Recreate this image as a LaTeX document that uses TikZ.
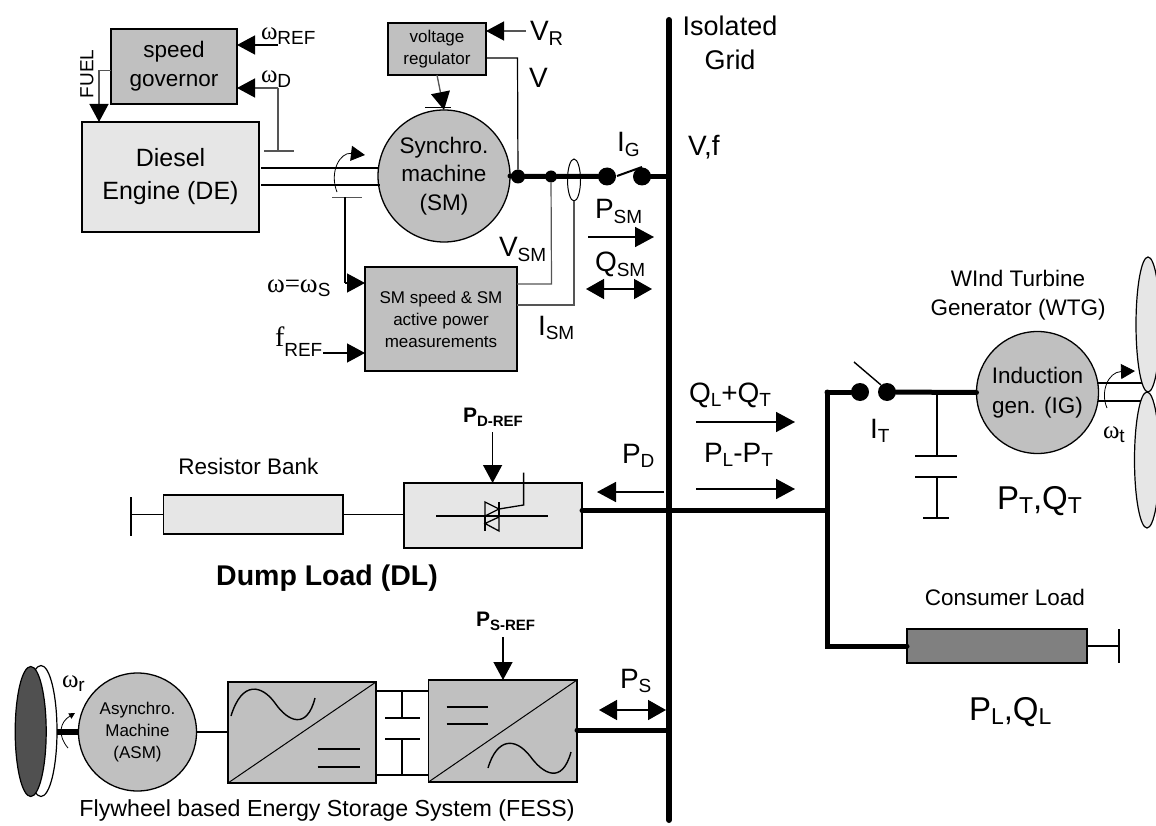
\documentclass[tikz,border=0pt]{standalone}
\usepackage{fontspec}
\setmainfont{Liberation Sans}
\newfontfamily\serifsym{Liberation Serif}
\newfontfamily\sanssym{Liberation Sans}
\usetikzlibrary{arrows.meta}
\newcommand{\om}{{\serifsym ω}}
\newcommand{\sublabel}[3][19]{#2\raisebox{-4.5pt}{\sanssym\fontsize{#1}{#1}\selectfont #3}}
\definecolor{lightfill}{HTML}{E6E6E6}
\definecolor{midfill}{HTML}{C0C0C0}
\definecolor{darkfill}{HTML}{808080}
\definecolor{wheelfill}{HTML}{505050}
\definecolor{signal}{HTML}{555555}
\tikzset{
  block/.style={draw=black,line width=1.3pt,inner sep=0pt,outer sep=0pt,align=center},
  grayblock/.style={block,fill=midfill},
  lightblock/.style={block,fill=lightfill},
  machine/.style={block,circle,fill=midfill},
  txt/.style={inner sep=0pt,outer sep=0pt,align=center},
  sig/.style={txt,anchor=base west,font=\fontsize{28}{28}\selectfont},
  symsig/.style={sig,font=\fontsize{25}{25}\selectfont},
  bigsig/.style={sig,font=\fontsize{33}{33}\selectfont},
  refsig/.style={sig,font=\bfseries\fontsize{21}{21}\selectfont},
  smalltxt/.style={txt,font=\fontsize{17}{22}\selectfont},
  medtxt/.style={txt,font=\fontsize{22.5}{29}\selectfont},
  dot/.style={circle,fill=black,inner sep=0pt,outer sep=0pt,minimum size=#1},
  wire/.style={line width=1.2pt},
  ctrl/.style={line width=1.2pt,draw=signal},
  shaft/.style={line width=1.7pt},
  bus/.style={line width=5pt,line cap=round},
  headed/.style={-{Triangle[length=18pt,width=19pt,black]},line width=1.3pt},
  powerflow/.style={-{Triangle[length=19pt,width=20pt,black]},line width=1.6pt},
  twoway/.style={{Triangle[length=18pt,width=20pt,black]}-{Triangle[length=18pt,width=20pt,black]},line width=1.6pt},
  spin/.style={-{Triangle[length=14pt,width=15pt]},line width=.8pt}
}
\begin{document}
\begin{tikzpicture}[x=1pt,y=-1pt]
\useasboundingbox (0,0) rectangle (1156,826);
\coordinate (bustop) at (669,20);
\coordinate (busbot) at (669,820);
\draw[line width=6pt,line cap=round] (bustop) -- (busbot);
\node[txt,font=\fontsize{27}{34}\selectfont] (gridlabel) at (730,43) {Isolated\\Grid};
\node[sig] (vflabel) at (688,156) {V,f};
% diesel and governor
\node[grayblock,medtxt,minimum width=126pt,minimum height=75pt] (gov) at (174,66.5) {speed\\governor};
\node[lightblock,font=\fontsize{25}{33}\selectfont,minimum width=177pt,minimum height=110pt] (diesel) at (170.5,177) {Diesel\\Engine (DE)};
\node[txt,rotate=90,font=\fontsize{19}{19}\selectfont] (fuel) at (87,74) {FUEL};
\coordinate (fuelbend) at (99,70.5);
\draw[ctrl,headed] (fuelbend -| gov.west) -- (fuelbend) -- (fuelbend |- diesel.north);
\node[symsig] (wreflabel) at (261,40) {\om\sublabel{}{REF}};
\node[symsig] (wdlabel) at (261,83) {\om\sublabel{}{D}};
\coordinate (wrefend) at (278,45);
\coordinate (wdend) at (278,88);
\coordinate (wdbar) at (278,151);
\draw[headed] (wrefend) -- (wrefend -| gov.east);
\draw[ctrl] (wdbar) -- (wdend);
\draw[ctrl,headed] (wdend) -- (wdend -| gov.east);
\draw[shaft,draw=signal] (264,151) -- (294,151);
% synchronous machine
\node[machine,font=\fontsize{22.5}{28.5}\selectfont,minimum size=132pt] (sm) at (444,176) {Synchro.\\machine\\(SM)};
\node[grayblock,smalltxt,minimum width=98pt,minimum height=52pt] (avr) at (437,49) {voltage\\regulator};
\node[grayblock,smalltxt,minimum width=152pt,minimum height=104pt] (meas) at (441,319) {SM speed \& SM\\active power\\measurements};
\coordinate (shafta) at (261,168);
\coordinate (shaftb) at (261,185);
\draw[shaft] (shafta) -- (shafta -| sm.west);
\draw[shaft] (shaftb) -- (380,185);
\draw[spin] (337,192) .. controls (329,172) and (340,152) .. (365,155);
\draw[shaft,draw=signal] (332,197.5) -- (362,197.5);
\coordinate (wsbar) at (345,197.5);
\coordinate (wsbend) at (345,283);
\draw[wire] (wsbar) -- (wsbend);
\draw[headed] (wsbend) -- (wsbend -| meas.west);
\coordinate (avrin) at (526,31);
\coordinate (frefstart) at (323,353);
\draw[ctrl,headed] (avrin) -- (avrin -| avr.east);
\draw[ctrl,headed] (avr.south) -- (sm.north);
\draw[line width=1.3pt] (425,107.5) -- (451,107.5);
\draw[headed] (frefstart) -- (frefstart -| meas.west);
\node[sig] (vrlabel) at (530,41) {\sublabel[20]{V}{R}};
\node[sig] (vlabel) at (529,88) {V};
\node[symsig,font=\fontsize{27}{27}\selectfont] (wslabel) at (267,292) {{\serifsym ω=ω}\sublabel{}{S}};
\node[sig] (freflabel) at (275,346) {{\serifsym f}\raisebox{-10pt}{\fontsize{19}{19}\selectfont REF}};
\node[sig] (vsmlabel) at (499,257) {\sublabel{V}{SM}};
\node[sig] (ismlabel) at (538,335) {\sublabel{I}{SM}};
% generator breaker
\node[dot=14pt] (nodev) at (518,176.5) {};
\node[dot=12pt] (nodevsm) at (551,176.5) {};
\node[dot=18pt] (brka) at (607,176.5) {};
\node[dot=18pt] (brkb) at (642,176.5) {};
\draw[bus] (sm.east) -- (nodev) -- (nodevsm) -- (brka);
\draw[bus] (brkb) -- (brkb -| bustop);
\draw[line width=2pt] (617,176) -- (642,167);
\draw[wire] (avr.east |- 0,58) -- (517.5,58) -- (nodev);
\draw[ctrl] (meas.east |- 0,284) -- (551.5,284) -- (nodevsm);
\draw[line width=1pt] (574,180) ellipse (6.5 and 21);
\draw[ctrl] (meas.east |- 0,305) -- (574,305) -- (574,201);
\node[sig] (iglabel) at (617,152) {\sublabel{I}{G}};
\node[sig] (psmlabel) at (595,219) {\sublabel{P}{SM}};
\node[sig] (qsmlabel) at (595,272) {\sublabel{Q}{SM}};
\coordinate (psma) at (588,237);
\coordinate (psmb) at (654,237);
\coordinate (qsma) at (586,289);
\coordinate (qsmb) at (652,289);
\draw[powerflow] (psma) -- (psmb);
\draw[twoway] (qsma) -- (qsmb);
% dump load
\node[lightblock,minimum width=179.5pt,minimum height=39pt] (resbank) at (253.25,514.5) {};
\node[lightblock,minimum width=178pt,minimum height=65pt] (thybox) at (493,515.5) {};
\node[medtxt] (reslabel) at (248.5,466) {Resistor Bank};
\node[txt,font=\bfseries\fontsize{28.5}{28.5}\selectfont] (dllabel) at (327,578) {Dump Load (DL)};
\node[refsig] (pdreflabel) at (463,422) {\sublabel[15]{P}{\bfseries D-REF}};
\coordinate (pdrefstart) at (492.6,432);
\draw[headed] (pdrefstart) -- (pdrefstart |- thybox.north);
\coordinate (resgnd) at (131,514.5);
\draw[wire] (resgnd) -- (resbank.west);
\draw[line width=1.3pt] (131,497) -- (131,536);
\draw[line width=1.6pt] (resbank.east) -- (resbank.east -| thybox.west);
\draw[line width=1.4pt] (436,516) -- (548,516);
\draw[line width=1.3pt] (485,502) -- (499,509) -- (485,516) -- cycle;
\draw[line width=1.3pt] (499,517) -- (485,523.5) -- (499,531) -- cycle;
\draw[line width=1.3pt] (499,502) -- (499,516) (485,517) -- (485,531);
\draw[line width=1.3pt] (499,509) -- (523.6,505) -- (523.6,472.7);
\node[sig] (pdlabel) at (622,463) {\sublabel{P}{D}};
\coordinate (pda) at (664,492);
\coordinate (pdb) at (597,492);
\draw[powerflow] (pda) -- (pdb);
% consumer side
\coordinate (loadtop) at (827,392);
\coordinate (loadjoin) at (827,510.5);
\coordinate (loadbot) at (827,646);
\draw[bus] (thybox.east |- loadjoin) -- (loadjoin);
\node[block,fill=darkfill,minimum width=180pt,minimum height=34pt] (consumer) at (997,646) {};
\draw[bus] (loadtop) -- (loadbot) -- (consumer.west);
\draw[wire] (consumer.east) -- (1119,646);
\draw[line width=1.4pt] (1119,629) -- (1119,663);
\node[medtxt] (consumerlabel) at (1005,597) {Consumer Load};
\node[bigsig] (pllabel) at (969,720) {\sublabel[23]{P}{L},Q\sublabel[23]{}{L}};
\node[sig] (qltlabel) at (689,402) {\sublabel{Q}{L}+\sublabel{Q}{T}};
\node[sig] (pltlabel) at (704,462) {\sublabel{P}{L}-\sublabel{P}{T}};
\coordinate (qla) at (696,422);
\coordinate (qlb) at (795,422);
\coordinate (pla) at (696,489);
\coordinate (plb) at (795,489);
\draw[powerflow] (qla) -- (qlb);
\draw[powerflow] (pla) -- (plb);
% wind generator
\node[dot=18pt] (brkc) at (860,392) {};
\node[dot=18pt] (brkd) at (887,392) {};
\node[machine,font=\fontsize{22.5}{30}\selectfont,minimum size=122pt] (ig) at (1037.5,392.5) {Induction\\gen. (IG)};
\draw[bus] (loadtop) -- (brkc);
\draw[bus] (brkd) -- (ig.west);
\draw[line width=1.4pt] (854,362) -- (881,385);
\node[sig] (itlabel) at (870,438) {\sublabel{I}{T}};
\coordinate (captop) at (937,392);
\coordinate (capgnd) at (937,518);
\draw[wire] (captop) -- (937,456) (937,477) -- (capgnd);
\draw[line width=1.5pt] (915,456) -- (957,456) (915,477) -- (957,477);
\draw[line width=1.5pt] (923,518) -- (949,518);
\node[bigsig] (ptlabel) at (997,509) {\sublabel[23]{P}{T},Q\sublabel[23]{}{T}};
\node[medtxt] (wtglabel) at (1018,295.5) {WInd Turbine\\Generator (WTG)};
\draw[shaft] (1098,383) -- (1147,383) (1098,400.7) -- (1147,400.7);
\draw[line width=1.2pt,fill=lightfill] (1148,324.5) ellipse (12 and 67.5);
\draw[line width=1.2pt,fill=lightfill] (1147,460) ellipse (12.5 and 68);
\draw[spin] (1107,408) .. controls (1100,392) and (1108,372) .. (1135,371);
\node[symsig] (wtlabel) at (1103,438) {\om\sublabel{}{t}};
% flywheel storage
\draw[line width=1.2pt,fill=white] (41,731) ellipse (16 and 65.5);
\draw[line width=1.2pt,fill=wheelfill] (30.7,731.5) ellipse (15.5 and 65);
\node[machine,smalltxt,minimum size=118pt] (asm) at (137.5,732) {Asynchro.\\Machine\\(ASM)};
\draw[line width=6pt] (57,732) -- (asm.west);
\draw[line width=.8pt,-{Triangle[length=6pt,width=6pt]}] (68,748) .. controls (57,735) and (60,722) .. (75,713);
\node[symsig] (wrlabel) at (62,687) {\om\sublabel{}{r}};
\node[grayblock,minimum width=148pt,minimum height=101pt] (rect) at (302,732.5) {};
\node[grayblock,minimum width=148.5pt,minimum height=102pt] (inv) at (502.75,731) {};
\draw[wire] (asm.east) -- (rect.west |- asm.east);
\draw[line width=1pt] (rect.south west) -- (rect.north east);
\draw[line width=1pt] (inv.south west) -- (inv.north east);
\draw[line width=1.4pt] (231,716) .. controls (242,680) and (262,685) .. (275,703) .. controls (288,722) and (307,730) .. (315,698);
\draw[line width=1.8pt] (317.5,749) -- (360,749) (317.5,767) -- (360,767);
\draw[line width=1.8pt] (446.5,707) -- (488,707) (446.5,724) -- (488,724);
\draw[line width=1.4pt] (488,768) .. controls (497,738) and (515,737) .. (530,756) .. controls (543,774) and (562,785) .. (571,752);
\coordinate (dclinka) at (402,691);
\coordinate (dclinkb) at (402,775);
\draw[wire] (rect.east |- dclinka) -- (inv.west |- dclinka);
\draw[wire] (rect.east |- dclinkb) -- (inv.west |- dclinkb);
\draw[wire] (dclinka) -- (402,718) (402,739) -- (dclinkb);
\draw[line width=1.4pt] (385,718) -- (420,718) (385,739) -- (420,739);
\draw[bus] (inv.east |- 0,730) -- (669,730);
\node[refsig] (psreflabel) at (476,626) {\sublabel[15]{P}{\bfseries S-REF}};
\coordinate (psrefstart) at (503,637);
\draw[headed] (psrefstart) -- (psrefstart |- inv.north);
\node[sig] (pslabel) at (620,688) {\sublabel{P}{S}};
\coordinate (psa) at (599,710);
\coordinate (psb) at (666,710);
\draw[twoway] (psa) -- (psb);
\node[txt,font=\fontsize{23.2}{29}\selectfont] (fesslabel) at (327,810) {Flywheel based Energy Storage System (FESS)};
\end{tikzpicture}
\end{document}
